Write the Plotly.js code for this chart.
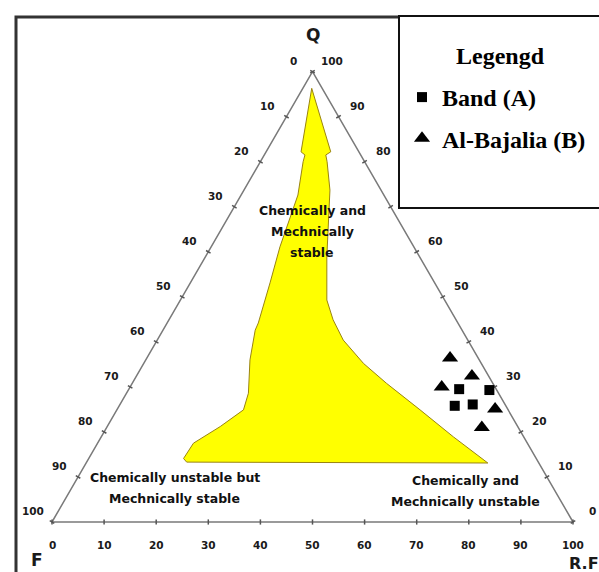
<!DOCTYPE html>
<html><head><meta charset="utf-8">
<script src="https://cdn.plot.ly/plotly-3.0.1.min.js"></script>
<style>html,body{margin:0;padding:0;background:#fff;}#chart{width:599px;height:572px;}</style>
</head><body><div id="chart"></div>
<script>
// Ternary composition values (percent). F = 100 - Q - RF
const bandQ  = [29.5, 29.3, 25.8, 26.1];
const bandRF = [63.4, 69.3, 64.4, 67.7];
const bajQ   = [36.4, 32.4, 30.0, 25.1, 21.0];
const bajRF  = [58.2, 64.4, 59.8, 72.5, 72.0];
// Boundary of the "chemically and mechanically stable" field
const fieldQ  = [96.3, 82.2, 81.5, 80.0, 72.6, 61.1, 53.1, 44.2, 42.6, 36.0, 28.6, 24.9, 21.2, 17.5, 14.1, 13.3, 13.1, 18.9, 24.9, 30.8, 35.2, 40.4, 44.9, 49.3, 58.9, 73.7, 80.0, 81.5, 82.2, 96.3];
const fieldRF = [1.7, 6.7, 7.8, 8.2, 10.9, 13.2, 15.3, 17.5, 17.7, 20.0, 23.4, 24.3, 21.7, 18.4, 18.2, 19.2, 77.1, 67.6, 58.2, 48.8, 42.2, 35.7, 31.5, 28.1, 23.3, 16.5, 12.8, 11.8, 12.4, 1.7];
const tickVals = [0, 10, 20, 30, 40, 50, 60, 70, 80, 90, 100];
const hiddenRightTicks = [70]; // covered by the legend box in the original
const vertexLabels = ['Q', 'F', 'R.F'];
const legendTitle = 'Legengd';
const seriesNames = ['Band (A)', 'Al-Bajalia (B)'];

const S3 = Math.sqrt(3) / 2;
const tx = (q, rf) => rf + q / 2;
const ty = (q) => q * S3;
const mapX = (Q, RF) => Q.map((q, i) => tx(q, RF[i]));
const mapY = (Q) => Q.map(ty);

const PX = 5.21, PY = 5.2, OX = 52, OY = 522, W = 599, H = 572;

// triangle frame
const triQ = [100, 0, 0, 100], triRF = [0, 0, 100, 0];
// small tick marks
const tkx = [], tky = [];
const tl = 0.5;
tickVals.forEach(v => {
  let x = tx(100 - v, 0), y = ty(100 - v);
  tkx.push(x - tl * S3, x + tl * S3, null); tky.push(y + tl * 0.5, y - tl * 0.5, null);
  x = tx(v, 100 - v); y = ty(v);
  tkx.push(x - tl * S3, x + tl * S3, null); tky.push(y - tl * 0.5, y + tl * 0.5, null);
  x = tx(0, v); y = 0;
  tkx.push(x, x, null); tky.push(-tl, tl, null);
});

const traces = [
  {x: mapX(fieldQ, fieldRF), y: mapY(fieldQ), mode: 'lines', fill: 'toself', fillcolor: '#ffff00',
   line: {color: '#9a8410', width: 1}, showlegend: false, hoverinfo: 'skip'},
  {x: mapX(triQ, triRF), y: mapY(triQ), mode: 'lines', line: {color: '#7a7a7a', width: 1.5}, showlegend: false, hoverinfo: 'skip'},
  {x: tkx, y: tky, mode: 'lines', line: {color: '#555', width: 1.5}, showlegend: false, hoverinfo: 'skip'},
  {x: mapX(bandQ, bandRF), y: mapY(bandQ), mode: 'markers', name: seriesNames[0], legendgroup: 'a',
   marker: {symbol: 'square', size: 10, color: '#000'}},
  {x: mapX(bajQ, bajRF), y: mapY(bajQ), mode: 'markers', name: seriesNames[1], legendgroup: 'b',
   marker: {symbol: 'triangle-up', size: 14, color: '#000'}}
];

const tickFont = {family: 'DejaVu Sans', size: 10.5, color: '#1a1a1a', weight: 'bold'};
const ann = [];
tickVals.forEach(v => {
  ann.push({x: tx(100 - v, 0), y: ty(100 - v), text: String(v), showarrow: false, xshift: -19, yshift: 11, font: tickFont});
  if (!hiddenRightTicks.includes(v))
    ann.push({x: tx(v, 100 - v), y: ty(v), text: String(v), showarrow: false, xshift: 19, yshift: 11, font: tickFont});
  ann.push({x: tx(0, v), y: 0, text: String(v), showarrow: false, yshift: -23, font: tickFont});
});
const vFont = {family: 'DejaVu Sans', size: 17, color: '#1a1a1a', weight: 'bold'};
ann.push({x: tx(100, 0), y: ty(100), text: vertexLabels[0], showarrow: false, yshift: 37, font: vFont});
ann.push({x: tx(0, 0), y: 0, text: vertexLabels[1], showarrow: false, xshift: -15, yshift: -38, font: vFont});
ann.push({x: tx(0, 100), y: 0, text: vertexLabels[2], showarrow: false, xanchor: 'left', xshift: -6, yshift: -41,
  font: {family: 'DejaVu Sans', size: 16, color: '#1a1a1a', weight: 'bold'}});
ann.push({xref: 'paper', yref: 'paper', x: 500 / W, y: 1 - 56 / H, xanchor: 'center', yanchor: 'middle',
  text: legendTitle, showarrow: false,
  font: {family: 'Liberation Serif', size: 24, color: '#000', weight: 'bold'}});

const rFont = {family: 'DejaVu Sans', size: 12.5, color: '#111', weight: 'bold'};
const regionLabels = [
  {lines: ['Chemically and', 'Mechnically', 'stable'], q: 69.1, rf: 15.4},
  {lines: ['Chemically unstable but', 'Mechnically stable'], q: 9.8, rf: 18.7},
  {lines: ['Chemically and', 'Mechnically unstable'], q: 9.3, rf: 74.8}
];
regionLabels.forEach(r => {
  r.lines.forEach((t, i) => {
    ann.push({x: tx(r.q, r.rf), y: ty(r.q), text: t, showarrow: false, yshift: -i * 21, font: rFont});
  });
});

const shapes = [
  {type: 'rect', xref: 'paper', yref: 'paper', x0: 16 / W, x1: 640 / W, y0: 1 - 17 / H, y1: -0.2,
   line: {color: '#333', width: 3}, fillcolor: 'rgba(0,0,0,0)', layer: 'below'},
  {type: 'rect', xref: 'paper', yref: 'paper', x0: 399 / W, x1: 640 / W, y0: 1 - 16 / H, y1: 1 - 208 / H,
   line: {color: '#111', width: 2}, fillcolor: '#fff', layer: 'above'}
];

const layout = {
  width: W, height: H, margin: {l: 0, r: 0, t: 0, b: 0},
  paper_bgcolor: '#fff', plot_bgcolor: 'rgba(0,0,0,0)',
  xaxis: {range: [-OX / PX, (W - OX) / PX], visible: false, fixedrange: true},
  yaxis: {range: [(OY - H) / PY, OY / PY], visible: false, fixedrange: true},
  showlegend: true,
  legend: {x: 402 / W, y: 1 - 75 / H, xanchor: 'left', yanchor: 'top', bgcolor: 'rgba(0,0,0,0)', borderwidth: 0,
    font: {family: 'Liberation Serif', size: 24, color: '#000', weight: 'bold'},
    itemsizing: 'trace', tracegroupgap: 7},
  annotations: ann, shapes: shapes
};
Plotly.newPlot('chart', traces, layout, {displayModeBar: false, staticPlot: true});
</script></body></html>
